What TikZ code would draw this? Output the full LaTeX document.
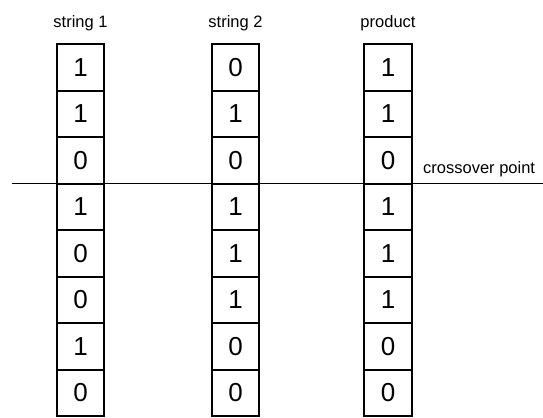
\documentclass[tikz,border=0pt]{standalone}
\usepackage{fontspec}
\setmainfont{Liberation Sans}
\begin{document}
\begin{tikzpicture}[x=1bp, y=-1bp,
  bitbox/.style={draw, line width=2bp, rectangle, minimum width=47.5bp,
    minimum height=46.5bp, inner sep=0pt, font=\fontsize{26bp}{30bp}\selectfont},
  header/.style={anchor=base, inner sep=0pt, font=\fontsize{16.5bp}{19bp}\selectfont},
  cutline/.style={line width=1.1bp},
  cutlabel/.style={anchor=base west, inner sep=0pt, font=\fontsize{16.5bp}{19bp}\selectfont}]
  \useasboundingbox (0,0) rectangle (543,417);

  % three bit strings: parent 1, parent 2 and the offspring
  \foreach \name/\cx/\title/\bits in {
      a/80.5/string 1/{1,1,0,1,0,0,1,0},
      b/235.5/string 2/{0,1,0,1,1,1,0,0},
      c/388/product/{1,1,0,1,1,1,0,0}} {
    \node[header] (\name-title) at (\cx,27) {\title};
    \foreach \bit [count=\i] in \bits {
      \node[bitbox] (\name\i) at (\cx, {44 + 46.5*(\i-0.5)}) {\bit};
    }
  }

  % crossover point between the third and fourth bit
  \coordinate (cutL) at (12,183.5);
  \coordinate (cutR) at (543,183.5);
  \draw[cutline] (cutL) -- (cutR);
  \node[cutlabel] (cut-text) at (423,173) {crossover point};
\end{tikzpicture}
\end{document}
